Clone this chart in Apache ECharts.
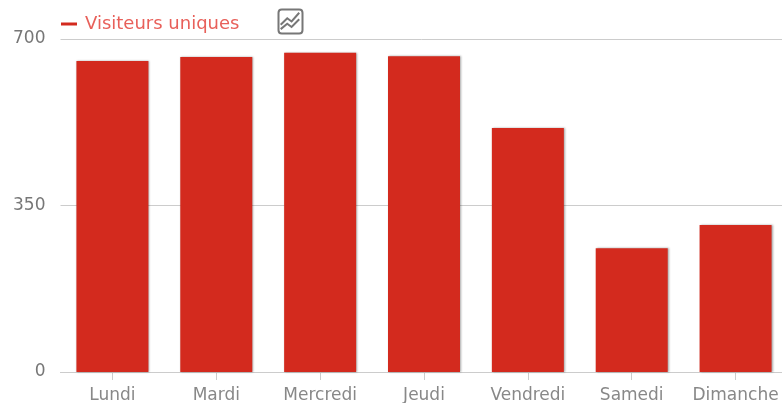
<!DOCTYPE html>
<html lang="fr">
<head>
  <meta charset="UTF-8">
  <title>Visiteurs uniques</title>
  <script src="https://cdn.jsdelivr.net/npm/echarts@6/dist/echarts.min.js"></script>
  <style>
    html, body { margin: 0; padding: 0; background: #fff; }
  </style>
</head>
<body>
<div id="main" style="width:782px;height:403px;"></div>
<script>
  var seriesName = 'Visiteurs uniques';
  var categories = ['Lundi', 'Mardi', 'Mercredi', 'Jeudi', 'Vendredi', 'Samedi', 'Dimanche'];
  var visiteurs = [654, 662, 671, 664, 513, 260, 309];
  var yTicks = [0, 350, 700];

  var myChart = echarts.init(document.getElementById('main'));
  myChart.setOption({
    animation: false,
    grid: { left: 60.5, top: 39, width: 727, height: 333, outerBoundsMode: 'none' },
    legend: {
      data: [{ name: seriesName, icon: 'rect' }],
      left: 56,
      top: 10,
      itemWidth: 16,
      itemHeight: 3,
      textStyle: { color: '#e8605a', fontFamily: 'DejaVu Sans', fontSize: 18, padding: [0, 0, 0, 3] }
    },
    toolbox: {
      left: 276,
      top: 7,
      padding: 0,
      itemSize: 24,
      feature: {
        myLine: {
          show: true,
          title: 'Ligne',
          // cadre arrondi + deux courbes
          icon: 'path://M4 1H20Q23 1 23 4V20Q23 23 20 23H4Q1 23 1 20V4Q1 1 4 1ZM3 15L9 9L13 12L20 4M3 19L9 14L13 17L20 10',
          onclick: function () {}
        }
      },
      iconStyle: { color: 'none', borderColor: '#777', borderWidth: 2 }
    },
    xAxis: {
      type: 'category',
      data: categories,
      boundaryGap: true,
      axisLine: { lineStyle: { color: '#ccc', width: 1 } },
      axisTick: { show: true, alignWithLabel: true, length: 8, lineStyle: { color: '#ccc' } },
      axisLabel: { color: '#888', fontFamily: 'DejaVu Sans', fontSize: 17, margin: 15, interval: 0 }
    },
    yAxis: {
      type: 'value',
      min: yTicks[0],
      max: yTicks[2],
      interval: yTicks[1],
      axisLine: { show: false },
      axisTick: { show: false },
      axisLabel: { color: '#777', fontFamily: 'DejaVu Sans', fontSize: 17, margin: 15 },
      splitLine: { lineStyle: { color: '#ccc', width: 1 } }
    },
    series: [{
      name: seriesName,
      type: 'bar',
      data: visiteurs,
      barWidth: 72,
      itemStyle: {
        color: '#d32a1e',
        shadowColor: 'rgba(0,0,0,0.35)',
        shadowBlur: 2,
        shadowOffsetX: 1,
        shadowOffsetY: 0
      }
    }]
  });
</script>
</body>
</html>
